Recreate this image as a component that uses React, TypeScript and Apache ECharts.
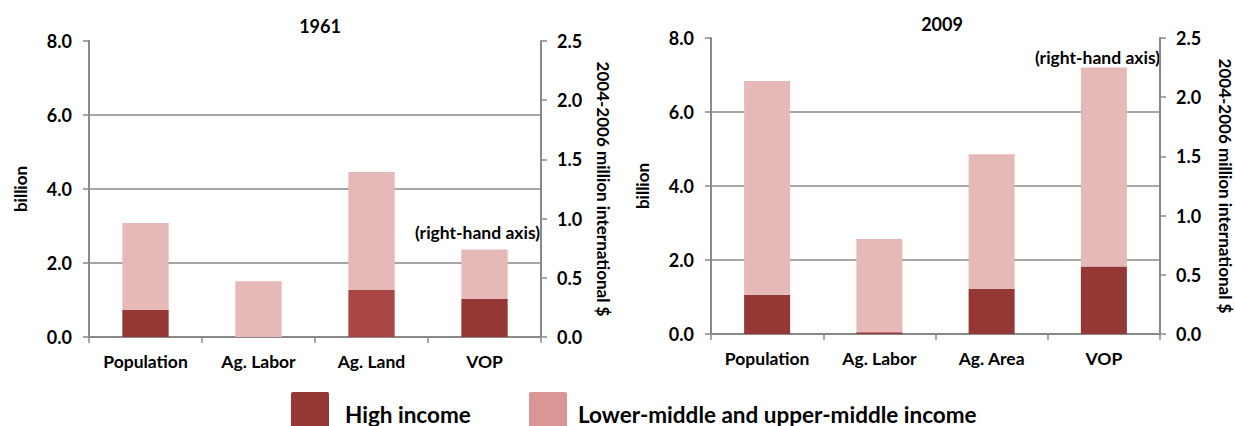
import React, { useEffect, useRef } from "react";
import * as echarts from "echarts";

const categories1961 = ["Population", "Ag. Labor", "Ag. Land", "VOP"];
const categories2009 = ["Population", "Ag. Labor", "Ag. Area", "VOP"];
// billions (left axis) for Population, Ag. Labor, Ag. Land/Area
const high1961 = [0.73, 0, 1.27];
const lowMid1961 = [2.35, 1.51, 3.19];
const high2009 = [1.06, 0.05, 1.22];
const lowMid2009 = [5.78, 2.52, 3.64];
// VOP (right-hand axis)
const vopHigh1961 = 0.32;
const vopLowMid1961 = 0.42;
const vopHigh2009 = 0.57;
const vopLowMid2009 = 1.68;

const leftTicks = { min: 0, max: 8, interval: 2 };
const rightTicks = { min: 0, max: 2.5, interval: 0.5 };

const HIGH = "#953735";
const HIGH_LAND = "#A94646";
const LOWMID = "#E6B8B7";
const LEGEND_LOWMID = "#D99694";
const GRAY = "#898989";
const FONT = "Lato, 'Noto Sans', sans-serif";

export default function App() {
  const ref = useRef<HTMLDivElement>(null);
  useEffect(() => {
    if (!ref.current) return;
    const chart = echarts.init(ref.current, undefined, { renderer: "svg" });

    const mkX = (idx: number, cats: string[]) => ({
      type: "category",
      gridIndex: idx,
      data: cats,
      axisLine: { lineStyle: { color: GRAY, width: 2 } },
      axisTick: { show: true, length: 6, alignWithLabel: false, lineStyle: { color: GRAY, width: 1.5 } },
      axisLabel: { color: "#000", fontWeight: "bold", fontSize: 17.5, fontFamily: FONT, margin: 15 },
    });
    const mkYL = (idx: number) => ({
      type: "value",
      gridIndex: idx,
      ...leftTicks,
      name: "billion",
      nameLocation: "middle",
      nameRotate: 90,
      nameGap: 60,
      nameTextStyle: { color: "#000", fontWeight: "bold", fontSize: 17, fontFamily: FONT },
      axisLine: { show: true, lineStyle: { color: GRAY, width: 2 } },
      axisTick: { show: true, length: 6, lineStyle: { color: GRAY, width: 1.5 } },
      axisLabel: {
        color: "#000", fontWeight: "bold", fontSize: 18, fontFamily: FONT, margin: 17,
        formatter: (v: number) => v.toFixed(1),
      },
      splitLine: { show: true, showMinLine: false, showMaxLine: false, lineStyle: { color: GRAY, width: 1.5 } },
    });
    const mkYR = (idx: number, gap: number) => ({
      type: "value",
      gridIndex: idx,
      position: "right",
      ...rightTicks,
      name: "2004-2006 million international $",
      nameLocation: "middle",
      nameRotate: -90,
      nameGap: gap,
      nameTextStyle: { color: "#000", fontWeight: "bold", fontSize: 17, fontFamily: FONT },
      axisLine: { show: true, lineStyle: { color: GRAY, width: 2 } },
      axisTick: { show: true, length: 6, lineStyle: { color: GRAY, width: 1.5 } },
      axisLabel: {
        color: "#000", fontWeight: "bold", fontSize: 18, fontFamily: FONT, margin: 16,
        formatter: (v: number) => v.toFixed(1),
      },
      splitLine: { show: false },
    });

    const barBase = { type: "bar", barWidth: "41%", barGap: "-100%" };
    const mkSeries = (
      g: number,
      high: number[],
      low: number[],
      vh: number,
      vl: number,
      highColors: string[]
    ) => [
      {
        ...barBase,
        name: "High income",
        xAxisIndex: g,
        yAxisIndex: g * 2,
        stack: "left" + g,
        data: [...high.map((v, i) => ({ value: v, itemStyle: { color: highColors[i] } })), "-"],
        itemStyle: { color: HIGH },
      },
      {
        ...barBase,
        name: "Lower-middle and upper-middle income",
        xAxisIndex: g,
        yAxisIndex: g * 2,
        stack: "left" + g,
        data: [...low, "-"],
        itemStyle: { color: LOWMID },
      },
      {
        ...barBase,
        name: "High income",
        xAxisIndex: g,
        yAxisIndex: g * 2 + 1,
        stack: "right" + g,
        data: ["-", "-", "-", vh],
        itemStyle: { color: HIGH },
      },
      {
        ...barBase,
        name: "Lower-middle and upper-middle income",
        xAxisIndex: g,
        yAxisIndex: g * 2 + 1,
        stack: "right" + g,
        data: ["-", "-", "-", vl],
        itemStyle: { color: LOWMID },
      },
    ];

    const annot = {
      fill: "#000", fontWeight: "bold", fontSize: 17.5, fontFamily: FONT,
      align: "right", verticalAlign: "middle",
    };
    const legendText = {
      fill: "#000", fontWeight: "bold", fontSize: 22.5, fontFamily: FONT, verticalAlign: "middle",
    };
    const titleStyle = { fontSize: 18, fontWeight: "bold", color: "#000", fontFamily: FONT };

    chart.setOption({
      animation: false,
      backgroundColor: "#fff",
      textStyle: { fontFamily: FONT },
      title: [
        { text: "1961", left: 315, top: 12, textAlign: "center", textStyle: titleStyle },
        { text: "2009", left: 937, top: 10, textAlign: "center", textStyle: titleStyle },
      ],
      grid: [
        { left: 89, right: 694, top: 41, bottom: 89 },
        { left: 711, right: 73, top: 38, bottom: 92 },
      ],
      xAxis: [mkX(0, categories1961), mkX(1, categories2009)],
      yAxis: [mkYL(0), mkYR(0, 54), mkYL(1), mkYR(1, 57)],
      series: [
        ...mkSeries(0, high1961, lowMid1961, vopHigh1961, vopLowMid1961, [HIGH, HIGH, HIGH_LAND]),
        ...mkSeries(1, high2009, lowMid2009, vopHigh2009, vopLowMid2009, [HIGH, HIGH, HIGH]),
      ],
      graphic: [
        { type: "text", x: 540, y: 232, style: { text: "(right-hand axis)", ...annot } },
        { type: "text", x: 1160, y: 57, style: { text: "(right-hand axis)", ...annot } },
        { type: "rect", shape: { x: 291, y: 392, width: 38, height: 44, r: 2 }, style: { fill: HIGH } },
        { type: "text", x: 345, y: 414, style: { text: "High income", ...legendText } },
        { type: "rect", shape: { x: 529, y: 392, width: 38, height: 44, r: 2 }, style: { fill: LEGEND_LOWMID } },
        { type: "text", x: 578, y: 414, style: { text: "Lower-middle and upper-middle income", ...legendText } },
      ],
    });
    return () => chart.dispose();
  }, []);
  return (
    <div
      ref={ref}
      style={{ position: "fixed", left: 0, top: 0, width: 1235, height: 426, background: "#fff" }}
    />
  );
}
